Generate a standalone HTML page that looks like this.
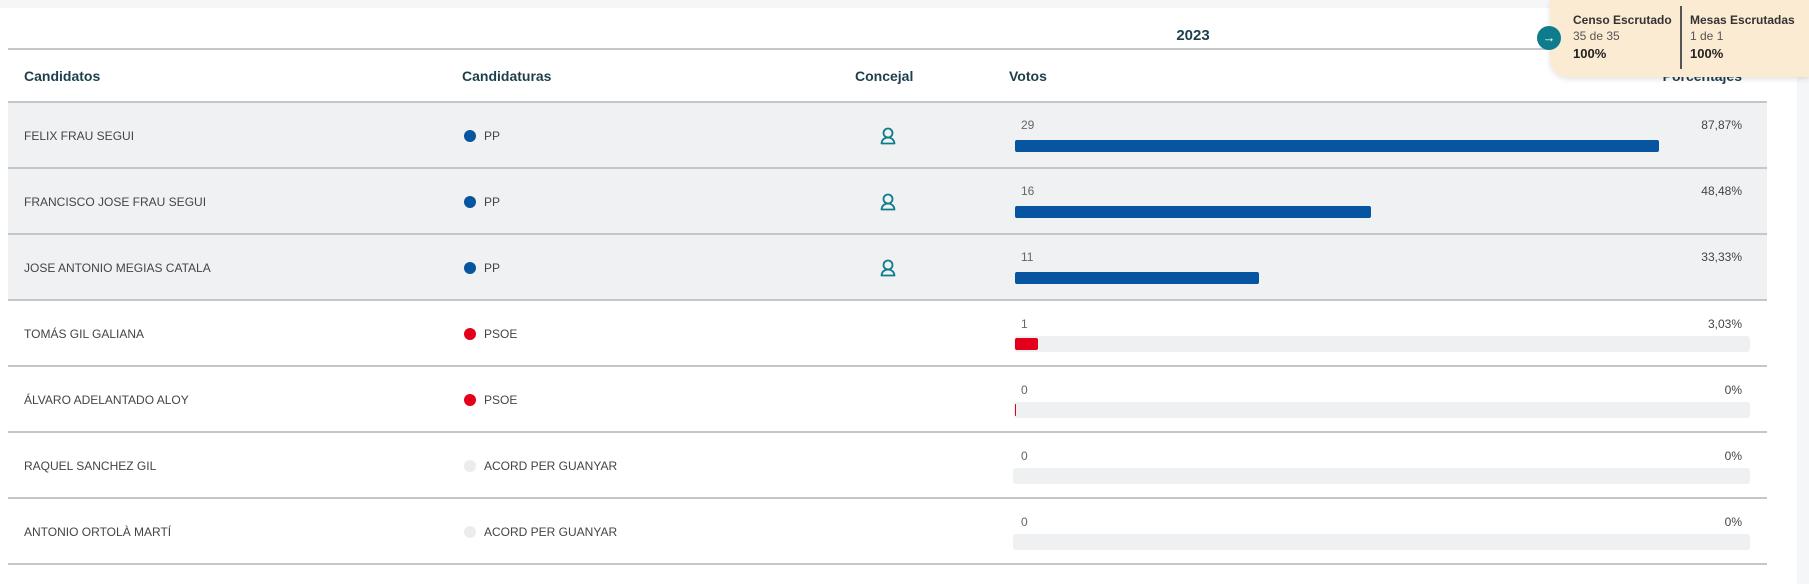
<!DOCTYPE html>
<html><head><meta charset="utf-8"><style>
*{margin:0;padding:0;box-sizing:border-box}
body{width:1809px;height:584px;background:#fff;position:relative;overflow:hidden;font-family:"Liberation Sans",sans-serif;color:#333}
.a{position:absolute}
.h{font-weight:bold;font-size:14px;color:#1d3f4d}
.row{position:absolute;left:8px;width:1759px;height:66px;border-bottom:2px solid #c3c7cb}
.t{position:absolute;font-size:12px;color:#444;line-height:14px}
.dot{position:absolute;width:12px;height:12px;border-radius:50%}
.track{position:absolute;left:1014px;width:736px;height:16px;background:#eff0f2;border-radius:3px}
.bar{position:absolute;left:1015px;height:12px;border-radius:2px}
</style></head><body>
<div class="a" style="left:0;top:0;width:1809px;height:8px;background:#f5f6f7"></div>
<div class="a" style="left:1797px;top:8px;width:12px;height:576px;background:#f5f6f7"></div>
<div class="a h" style="left:1150px;top:27px;width:86px;text-align:center;font-size:15px">2023</div>
<div class="a" style="left:8px;top:48px;width:1751px;height:2px;background:#c3c7cb"></div>
<div class="a h" style="left:24px;top:68px">Candidatos</div>
<div class="a h" style="left:462px;top:68px">Candidaturas</div>
<div class="a h" style="left:855px;top:68px">Concejal</div>
<div class="a h" style="left:1009px;top:68px">Votos</div>
<div class="a h" style="left:1640px;top:68px;width:102px;text-align:right">Porcentajes</div>
<div class="a" style="left:8px;top:101px;width:1759px;height:2px;background:#c3c7cb"></div>

<div class="row" style="top:103px;background:#f0f1f3"></div>
<div class="row" style="top:169px;background:#f0f1f3"></div>
<div class="row" style="top:235px;background:#f0f1f3"></div>
<div class="row" style="top:301px"></div>
<div class="row" style="top:367px"></div>
<div class="row" style="top:433px"></div>
<div class="row" style="top:499px"></div>

<div class="t" style="left:24px;top:129px">FELIX FRAU SEGUI</div>
<div class="t" style="left:24px;top:195px">FRANCISCO JOSE FRAU SEGUI</div>
<div class="t" style="left:24px;top:261px">JOSE ANTONIO MEGIAS CATALA</div>
<div class="t" style="left:24px;top:327px">TOMÁS GIL GALIANA</div>
<div class="t" style="left:24px;top:393px">ÁLVARO ADELANTADO ALOY</div>
<div class="t" style="left:24px;top:459px">RAQUEL SANCHEZ GIL</div>
<div class="t" style="left:24px;top:525px">ANTONIO ORTOLÀ MARTÍ</div>

<div class="dot" style="left:464px;top:130px;background:#0754a0"></div><div class="t" style="left:484px;top:129px">PP</div>
<div class="dot" style="left:464px;top:196px;background:#0754a0"></div><div class="t" style="left:484px;top:195px">PP</div>
<div class="dot" style="left:464px;top:262px;background:#0754a0"></div><div class="t" style="left:484px;top:261px">PP</div>
<div class="dot" style="left:464px;top:328px;background:#e2001a"></div><div class="t" style="left:484px;top:327px">PSOE</div>
<div class="dot" style="left:464px;top:394px;background:#e2001a"></div><div class="t" style="left:484px;top:393px">PSOE</div>
<div class="dot" style="left:464px;top:460px;background:#ececec"></div><div class="t" style="left:484px;top:459px">ACORD PER GUANYAR</div>
<div class="dot" style="left:464px;top:526px;background:#ececec"></div><div class="t" style="left:484px;top:525px">ACORD PER GUANYAR</div>

<svg class="a" style="left:880px;top:127px" width="16" height="18" viewBox="0 0 16 18"><circle cx="8" cy="6" r="4.5" fill="none" stroke="#0e7c8c" stroke-width="1.8"/><path d="M1.5 16.5 Q2 11 8 10.5 Q14 11 14.5 16.5 Z" fill="none" stroke="#0e7c8c" stroke-width="1.8" stroke-linejoin="round"/></svg>
<svg class="a" style="left:880px;top:193px" width="16" height="18" viewBox="0 0 16 18"><circle cx="8" cy="6" r="4.5" fill="none" stroke="#0e7c8c" stroke-width="1.8"/><path d="M1.5 16.5 Q2 11 8 10.5 Q14 11 14.5 16.5 Z" fill="none" stroke="#0e7c8c" stroke-width="1.8" stroke-linejoin="round"/></svg>
<svg class="a" style="left:880px;top:259px" width="16" height="18" viewBox="0 0 16 18"><circle cx="8" cy="6" r="4.5" fill="none" stroke="#0e7c8c" stroke-width="1.8"/><path d="M1.5 16.5 Q2 11 8 10.5 Q14 11 14.5 16.5 Z" fill="none" stroke="#0e7c8c" stroke-width="1.8" stroke-linejoin="round"/></svg>

<div class="t" style="left:1021px;top:118px;color:#666">29</div><div class="t" style="left:1640px;top:118px;width:102px;text-align:right">87,87%</div>
<div class="bar" style="top:140px;width:644px;background:#0754a0"></div>
<div class="t" style="left:1021px;top:184px;color:#666">16</div><div class="t" style="left:1640px;top:184px;width:102px;text-align:right">48,48%</div>
<div class="bar" style="top:206px;width:356px;background:#0754a0"></div>
<div class="t" style="left:1021px;top:250px;color:#666">11</div><div class="t" style="left:1640px;top:250px;width:102px;text-align:right">33,33%</div>
<div class="bar" style="top:272px;width:244px;background:#0754a0"></div>

<div class="t" style="left:1021px;top:317px;color:#666">1</div><div class="t" style="left:1640px;top:317px;width:102px;text-align:right">3,03%</div>
<div class="track" style="top:336px"></div><div class="bar" style="top:338px;width:23px;background:#e2001a"></div>
<div class="t" style="left:1021px;top:383px;color:#666">0</div><div class="t" style="left:1640px;top:383px;width:102px;text-align:right">0%</div>
<div class="track" style="top:402px"></div><div class="bar" style="top:404px;width:1px;background:#e2001a"></div>
<div class="t" style="left:1021px;top:449px;color:#666">0</div><div class="t" style="left:1640px;top:449px;width:102px;text-align:right">0%</div>
<div class="track" style="top:468px;left:1013px;width:737px"></div>
<div class="t" style="left:1021px;top:515px;color:#666">0</div><div class="t" style="left:1640px;top:515px;width:102px;text-align:right">0%</div>
<div class="track" style="top:534px;left:1013px;width:737px"></div>

<div class="a" style="left:1550px;top:0;width:259px;height:77px;background:#fcebd3;border-radius:0 0 0 18px;box-shadow:0 2px 6px rgba(0,0,0,0.12)"></div>
<div class="a" style="left:1537px;top:26px;width:24px;height:24px;border-radius:50%;background:#0e7c8c;color:#fff;font-size:13px;line-height:23px;text-align:center">→</div>
<div class="a" style="left:1573px;top:13px;font-size:12px;font-weight:bold;color:#333">Censo Escrutado</div>
<div class="a" style="left:1573px;top:29px;font-size:12px;color:#555">35 de 35</div>
<div class="a" style="left:1573px;top:46px;font-size:13px;font-weight:bold;color:#222">100%</div>
<div class="a" style="left:1680px;top:6px;width:2px;height:63px;background:#555"></div>
<div class="a" style="left:1690px;top:13px;font-size:12px;font-weight:bold;color:#333">Mesas Escrutadas</div>
<div class="a" style="left:1690px;top:29px;font-size:12px;color:#555">1 de 1</div>
<div class="a" style="left:1690px;top:46px;font-size:13px;font-weight:bold;color:#222">100%</div>
</body></html>
